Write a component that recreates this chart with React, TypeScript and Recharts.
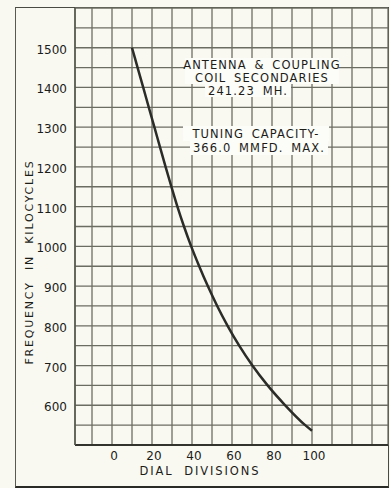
import { CartesianGrid, Line, LineChart, XAxis, YAxis } from "recharts";

// dial reading vs frequency
const dialDivisions = [10, 12.8, 15.6, 18.4, 21.2, 24, 26.8, 29.7, 32.7, 36, 39.6, 43.6, 47.9, 52.6, 57.8, 63.6, 70.2, 77.8, 86.6, 96.6, 100];
const frequencyKc = [1500, 1450, 1400, 1350, 1300, 1250, 1200, 1150, 1100, 1050, 1000, 950, 900, 850, 800, 750, 700, 650, 600, 550, 536];

const xGridTicks = [-10, 0, 10, 20, 30, 40, 50, 60, 70, 80, 90, 100, 110, 120, 130];
const xLabelTicks = [0, 20, 40, 60, 80, 100];
const yGridTicks = [550, 600, 650, 700, 750, 800, 850, 900, 950, 1000, 1050, 1100, 1150, 1200, 1250, 1300, 1350, 1400, 1450, 1500, 1550];
const yLabelTicks = [600, 700, 800, 900, 1000, 1100, 1200, 1300, 1400, 1500];

const data = dialDivisions.map((d, i) => ({ dial: d, kc: frequencyKc[i] }));

const FONT = "'DejaVu Sans', sans-serif";
const INK = "#1c1c19";
const PAPER = "#f9f9f2";
const BOX = "#fcfcf8";

function YTick(props: any) {
  const { x, y, payload } = props;
  if (!yLabelTicks.includes(payload.value)) return null;
  return (
    <text x={x} y={y + 2} textAnchor="end" dominantBaseline="central" fontSize={12} fill={INK} fontFamily={FONT}>
      {payload.value}
    </text>
  );
}

function XTick(props: any) {
  const { x, payload } = props;
  if (!xLabelTicks.includes(payload.value)) return null;
  return (
    <text x={x + 2} y={456} dominantBaseline="central" textAnchor="middle" fontSize={12} fill={INK} fontFamily={FONT}>
      {payload.value}
    </text>
  );
}

function Note({ cx, top, w, h, text }: { cx: number; top: number; w: number; h: number; text: string }) {
  return (
    <div
      style={{
        position: "absolute",
        left: cx - w / 2,
        top,
        width: w,
        height: h,
        background: BOX,
        display: "flex",
        alignItems: "center",
        justifyContent: "center",
        fontFamily: FONT,
        fontSize: 11.5,
        letterSpacing: 1.1,
        wordSpacing: 3,
        color: INK,
        whiteSpace: "nowrap",
      }}
    >
      {text}
    </div>
  );
}

export default function App() {
  return (
    <div style={{ position: "fixed", left: 0, top: 0, width: 390, height: 488, background: PAPER, overflow: "hidden" }}>
      <div
        style={{
          position: "absolute",
          left: 15,
          top: 7,
          width: 374,
          height: 481,
          boxSizing: "border-box",
          borderLeft: "1.5px solid #5a5b50",
          borderTop: "1.5px solid #4a4b42",
          borderRight: "1.5px solid #4a4b42",
          borderBottom: "2.5px solid #2a2a26",
        }}
      />
      <LineChart width={390} height={488} data={data} margin={{ top: 8, right: 2, left: 0, bottom: 13 }}>
        <CartesianGrid stroke="#6c6d62" strokeWidth={1.3} />
        <XAxis
          dataKey="dial"
          type="number"
          domain={[-18.5, 138]}
          ticks={xGridTicks}
          interval={0}
          height={30}
          tick={<XTick />}
          tickLine={false}
          axisLine={{ stroke: "#33332e", strokeWidth: 1.8 }}
        />
        <YAxis
          dataKey="kc"
          type="number"
          domain={[500, 1600]}
          ticks={yGridTicks}
          interval={0}
          width={75}
          tick={<YTick />}
          tickLine={false}
          axisLine={{ stroke: "#55564c", strokeWidth: 1.5 }}
        />
        <Line
          type="monotone"
          dataKey="kc"
          stroke="#2b2b27"
          strokeWidth={2.5}
          dot={false}
          isAnimationActive={false}
        />
      </LineChart>

      <Note cx={262} top={58} w={154} h={13} text="ANTENNA & COUPLING" />
      <Note cx={262} top={71} w={154} h={13} text="COIL SECONDARIES" />
      <Note cx={248} top={84} w={86} h={13} text="241.23 MH." />
      <Note cx={256} top={126} w={146} h={15} text="TUNING CAPACITY-" />
      <Note cx={259} top={141} w={138} h={14} text="366.0 MMFD. MAX." />

      <div
        style={{
          position: "absolute",
          left: 30 - 120,
          top: 262 - 7,
          width: 240,
          height: 14,
          lineHeight: "14px",
          transform: "rotate(-90deg)",
          textAlign: "center",
          fontFamily: FONT,
          fontSize: 11,
          letterSpacing: 1.8,
          wordSpacing: 6,
          color: INK,
          whiteSpace: "nowrap",
        }}
      >
        FREQUENCY IN KILOCYCLES
      </div>
      <div
        style={{
          position: "absolute",
          left: 200 - 90,
          top: 465,
          width: 180,
          height: 12,
          lineHeight: "12px",
          textAlign: "center",
          fontFamily: FONT,
          fontSize: 11.5,
          letterSpacing: 1.9,
          wordSpacing: 5,
          color: INK,
          whiteSpace: "nowrap",
        }}
      >
        DIAL DIVISIONS
      </div>
    </div>
  );
}
